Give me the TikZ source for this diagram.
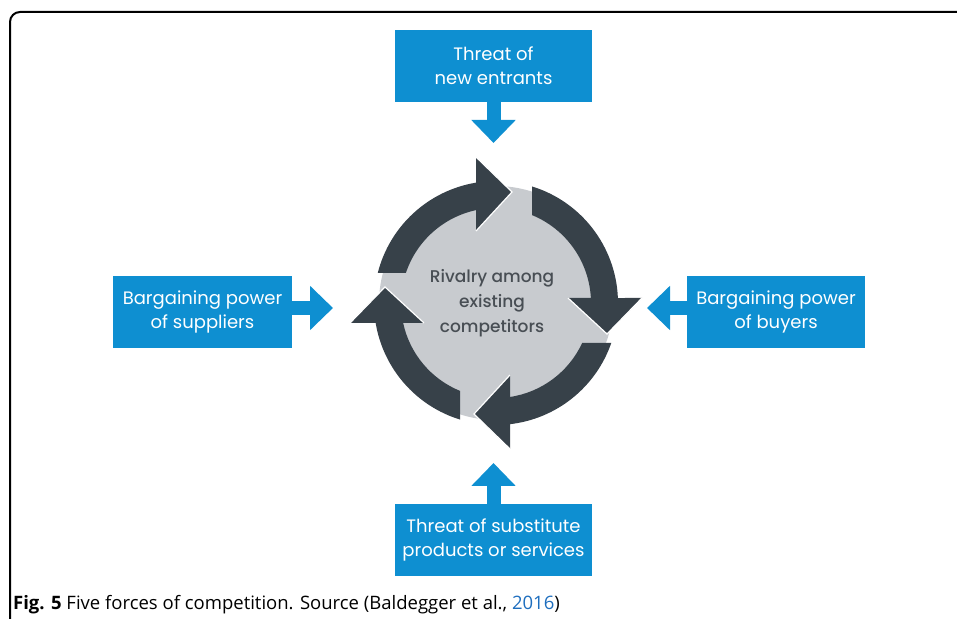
\documentclass[tikz,border=0pt]{standalone}
\usepackage{fontspec}
\setmainfont{Open Sans}
\newfontfamily\forcefont{Poppins}
\newfontfamily\rivalfont{Poppins Medium}
\usetikzlibrary{arrows.meta}
\definecolor{forceblue}{RGB}{14,143,209}
\definecolor{ringgray}{RGB}{55,65,73}
\definecolor{diskgray}{RGB}{200,203,207}
\definecolor{rivaltext}{RGB}{72,78,84}
\definecolor{linkblue}{RGB}{30,110,190}

\begin{document}
\begin{tikzpicture}[x=1pt, y=1pt,
  forcebox/.style={fill=forceblue, text=white, minimum width=197pt, minimum height=72pt,
    inner sep=0pt, align=center, font=\forcefont\fontsize{18}{24}\selectfont},
  forcearrow/.style={forceblue, line width=14pt, -{Triangle[length=23pt, width=43pt]}},
  ringarrow/.style={fill=ringgray},
  headedge/.style={white, line width=1.2pt}]
  \useasboundingbox (0,0) rectangle (957,618);

  % frame and caption
  \draw[line width=2pt, rounded corners=10pt] (10,-5) -- (10,606) -- (965,606);
  \node[anchor=base west, inner sep=0pt] (caption) at (13,9)
    {\fontsize{18.5}{22}\selectfont\textbf{Fig. 5} Five forces of competition. Source (Baldegger et al., \textcolor{linkblue}{2016})};

  % rivalry circle
  \fill[diskgray] (496,315) circle (117);
  \begin{scope}[shift={(496,315)}]
    \fill[ringarrow] ({180-asin(30/122)}:122) arc[start angle={180-asin(30/122)}, end angle={acos(-20/122)}, radius=122]
      -- (-20,146) -- (16,111) -- (-20,72) -- ({acos(-20/95)}:95)
      arc[start angle={acos(-20/95)}, end angle={180-asin(30/95)}, radius=95] -- cycle;
    \draw[headedge] (-20,146) -- (16,111) -- (-20,72);
    \fill[ringarrow, rotate=-90] ({180-asin(36/122)}:122) arc[start angle={180-asin(36/122)}, end angle={acos(-5/122)}, radius=122]
      -- (-5,146) -- (31,111) -- (-5,72) -- ({acos(-5/95)}:95)
      arc[start angle={acos(-5/95)}, end angle={180-asin(36/95)}, radius=95] -- cycle;
    \draw[headedge, rotate=-90] (-5,146) -- (31,111) -- (-5,72);
    \fill[ringarrow, rotate=180] ({180-asin(40/122)}:122) arc[start angle={180-asin(40/122)}, end angle={acos(-14/122)}, radius=122]
      -- (-14,146) -- (22,111) -- (-14,72) -- ({acos(-14/95)}:95)
      arc[start angle={acos(-14/95)}, end angle={180-asin(40/95)}, radius=95] -- cycle;
    \draw[headedge, rotate=180] (-14,146) -- (22,111) -- (-14,72);
    \fill[ringarrow, rotate=90] ({180-asin(36/122)}:122) arc[start angle={180-asin(36/122)}, end angle={acos(-20/122)}, radius=122]
      -- (-20,146) -- (16,111) -- (-20,72) -- ({acos(-20/95)}:95)
      arc[start angle={acos(-20/95)}, end angle={180-asin(36/95)}, radius=95] -- cycle;
    \draw[headedge, rotate=90] (-20,146) -- (16,111) -- (-20,72);
  \end{scope}
  \node[text=rivaltext, align=center, font=\rivalfont\fontsize{17}{25}\selectfont] (rivalry) at (492,315)
    {Rivalry among\\existing\\competitors};

  % the four forces
  \node[forcebox] (entrants) at (493.5,552) {Threat of\\new entrants};
  \node[forcebox, minimum width=179pt] (suppliers) at (202.5,306) {Bargaining power\\of suppliers};
  \node[forcebox, minimum width=178pt] (buyers) at (776,306) {Bargaining power\\of buyers};
  \node[forcebox] (substitutes) at (493.5,78) {Threat of substitute\\products or services};

  \coordinate (entrantstip) at (493.5,475);
  \coordinate (supplierstip) at (333,310);
  \coordinate (buyerstip) at (647,310);
  \coordinate (substitutestip) at (493.5,155);
  \draw[forcearrow] (entrants) -- (entrantstip);
  \draw[forcearrow] (suppliers.east |- supplierstip) -- (supplierstip);
  \draw[forcearrow] (buyers.west |- buyerstip) -- (buyerstip);
  \draw[forcearrow] (substitutes) -- (substitutestip);
\end{tikzpicture}
\end{document}
